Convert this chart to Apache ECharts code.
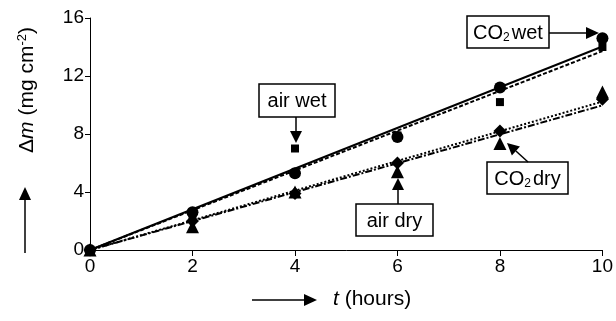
<!DOCTYPE html>
<html><head><meta charset="utf-8">
<script src="https://cdn.jsdelivr.net/npm/echarts@6/dist/echarts.min.js"></script>
<style>html,body{margin:0;padding:0;background:#fff}#c{width:616px;height:321px}</style>
</head><body><div id="c"></div>
<script>
const hours = [0, 2, 4, 6, 8, 10];
const co2Wet = [0, 2.6, 5.3, 7.8, 11.2, 14.6];
const airWet = [0, 2.4, 7.0, 7.9, 10.2, 14.0];
const co2Dry = [0, 1.6, 4.0, 5.4, 7.35, 10.9];
const airDry = [0, 2.0, 3.9, 6.0, 8.2, 10.4];
const xTicks = [0, 2, 4, 6, 8, 10];
const yTicks = [0, 4, 8, 12, 16];

const FONT = '"Liberation Sans", Arial, sans-serif';
function pairs(ys){ return hours.map((h,i)=>[h, ys[i]]); }
// least-squares trend line through origin
function fit(ys){
  let sxy=0, sxx=0;
  hours.forEach((h,i)=>{ sxy += h*ys[i]; sxx += h*h; });
  const k = sxy/sxx;
  return [[hours[0], k*hours[0]], [hours[hours.length-1], k*hours[hours.length-1]]];
}
function fitSeries(ys, type){
  return {type:'line', data: fit(ys), showSymbol:false, symbol:'none', silent:true, z:2,
    lineStyle:{color:'#000', width:2, type:type, opacity:1}};
}
function markSeries(ys, symbol, size){
  return {type:'scatter', data: pairs(ys), symbol:symbol, symbolSize:size, z:5,
    itemStyle:{color:'#000', opacity:1}};
}

function box(x, y, w, h, label){
  return [
    {type:'rect', shape:{x:x, y:y, width:w, height:h}, style:{fill:'#fff', stroke:'#000', lineWidth:1.5}, z:10},
    {type:'text', x:x+w/2, y:y+h/2+1, z:11, style:{text:label, align:'center', verticalAlign:'middle',
      fontFamily:FONT, fontSize:20, fill:'#000',
      rich:{n:{fontFamily:FONT, fontSize:20, fill:'#000'}, sub:{fontFamily:FONT, fontSize:12, fill:'#000', verticalAlign:'bottom', padding:[9,2,0,0]}}}}
  ];
}
function arrow(x1, y1, x2, y2, head, half){
  const a = Math.atan2(y2-y1, x2-x1);
  const bx = x2 - head*Math.cos(a), by = y2 - head*Math.sin(a);
  const px = -Math.sin(a)*half, py = Math.cos(a)*half;
  return [
    {type:'line', shape:{x1:x1, y1:y1, x2:bx, y2:by}, style:{stroke:'#000', lineWidth:1.5}, z:10},
    {type:'polygon', shape:{points:[[x2,y2],[bx+px,by+py],[bx-px,by-py]]}, style:{fill:'#000'}, z:10}
  ];
}

const graphics = [].concat(
  box(467, 16, 82, 32, '{n|CO}{sub|2}{n|wet}'),
  arrow(549, 33, 599, 33, 13, 6),
  box(259, 84, 76, 33, 'air wet'),
  arrow(296, 117, 296, 143, 12, 6),
  box(356, 204, 77, 32, 'air dry'),
  arrow(398, 204, 398, 178, 12, 6),
  box(487, 162, 81, 32, '{n|CO}{sub|2}{n|dry}'),
  arrow(528, 162, 507, 143, 12, 6),
  arrow(25, 253, 25, 187, 13, 6),
  arrow(252, 300, 317, 300, 13, 6),
  [
    {type:'text', x:27, y:90, rotation:Math.PI/2, style:{
      text:'Δ{i|m} (mg cm{s|-2})', align:'center', verticalAlign:'middle',
      fontFamily:FONT, fontSize:21, fill:'#000',
      rich:{i:{fontFamily:FONT, fontSize:21, fontStyle:'italic', fill:'#000'},
            s:{fontFamily:FONT, fontSize:13, fill:'#000', verticalAlign:'top', padding:[0,0,9,0]}}}},
    {type:'text', x:333, y:299, style:{
      text:'{i|t} (hours)', align:'left', verticalAlign:'middle',
      fontFamily:FONT, fontSize:21, fill:'#000',
      rich:{i:{fontFamily:FONT, fontSize:21, fontStyle:'italic', fill:'#000'}}}}
  ]
);

const chart = echarts.init(document.getElementById('c'), null, {renderer:'canvas'});
chart.setOption({
  animation:false,
  backgroundColor:'#fff',
  grid:{left:90, right:12, top:18, bottom:71},
  xAxis:{type:'value', min:xTicks[0], max:xTicks[xTicks.length-1], interval:xTicks[1]-xTicks[0],
    axisLine:{lineStyle:{color:'#000', width:1}},
    axisTick:{show:true, length:6, lineStyle:{color:'#000'}},
    axisLabel:{color:'#000', fontSize:19, fontFamily:FONT, margin:7},
    splitLine:{show:false}},
  yAxis:{type:'value', min:yTicks[0], max:yTicks[yTicks.length-1], interval:yTicks[1]-yTicks[0],
    axisLine:{show:true, lineStyle:{color:'#000', width:1}},
    axisTick:{show:true, length:5, lineStyle:{color:'#000'}},
    axisLabel:{color:'#000', fontSize:19, fontFamily:FONT, margin:6},
    splitLine:{show:false}},
  series:[
    fitSeries(co2Wet, 'solid'),
    fitSeries(airWet, [4,2]),
    fitSeries(co2Dry, [7,2,2,2]),
    fitSeries(airDry, [2,2]),
    markSeries(airWet, 'rect', 8),
    markSeries(co2Wet, 'circle', 12),
    markSeries(co2Dry, 'triangle', 13),
    markSeries(airDry, 'diamond', 13)
  ],
  graphic: graphics
});
</script></body></html>
